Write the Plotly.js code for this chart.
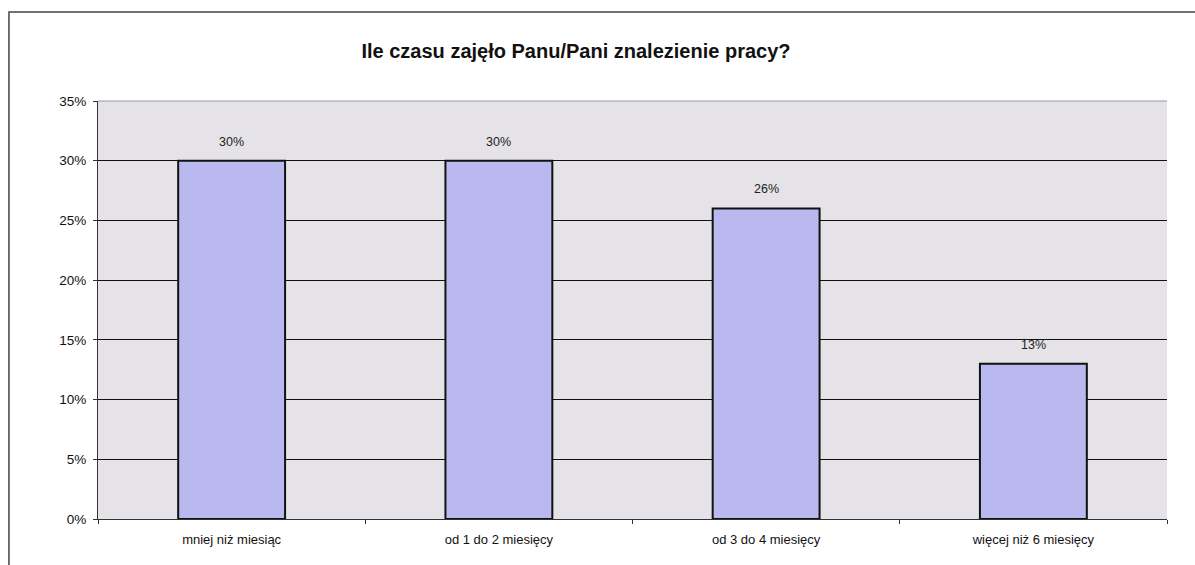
<!DOCTYPE html>
<html>
<head>
<meta charset="utf-8">
<script src="https://cdn.plot.ly/plotly-3.0.1.min.js"></script>
<style>html,body{margin:0;padding:0;background:#fff;}#chart{width:1195px;height:565px;}</style>
</head>
<body>
<div id="chart"></div>
<script>
const categories = ["mniej niż miesiąc", "od 1 do 2 miesięcy", "od 3 do 4 miesięcy", "więcej niż 6 miesięcy"];
const values = [0.30, 0.30, 0.26, 0.13];
const valueLabels = ["30%", "30%", "26%", "13%"];
const yTickVals = [0, 0.05, 0.10, 0.15, 0.20, 0.25, 0.30, 0.35];
const yTickText = ["0%", "5%", "10%", "15%", "20%", "25%", "30%", "35%"];
const chartTitle = "Ile czasu zajęło Panu/Pani znalezienie pracy?";

const FONT = "Liberation Sans, Arial, sans-serif";

const trace = {
  type: "bar",
  x: categories,
  y: values,
  width: 0.4,
  marker: {color: "#b9b9f0", line: {color: "#111", width: 2}},
  hoverinfo: "none"
};

const annotations = categories.map((c, i) => ({
  x: c, y: values[i], xref: "x", yref: "y",
  text: valueLabels[i], showarrow: false,
  yanchor: "bottom", yshift: 10,
  font: {family: FONT, size: 12.5, color: "#222"}
}));

const layout = {
  width: 1195, height: 565,
  margin: {l: 98, r: 28, t: 101, b: 46},
  paper_bgcolor: "#ffffff",
  plot_bgcolor: "#e5e3e7",
  showlegend: false,
  bargap: 0.6,
  title: {
    text: "<b>" + chartTitle + "</b>",
    font: {family: FONT, size: 20, color: "#111"},
    x: 0.482, xanchor: "center", y: 0.91, yanchor: "middle"
  },
  font: {family: FONT, color: "#111"},
  xaxis: {
    type: "category",
    showgrid: false,
    showline: true, linecolor: "#333", linewidth: 1,
    ticks: "outside", tickson: "boundaries", ticklen: 4, tickcolor: "#333",
    ticklabelstandoff: 8,
    tickfont: {size: 13, color: "#111"},
    zeroline: false
  },
  yaxis: {
    range: [0, 0.35],
    tickvals: yTickVals,
    ticktext: yTickText,
    showgrid: true, gridcolor: "#111", gridwidth: 1,
    showline: true, linecolor: "#333", linewidth: 1,
    ticks: "outside", ticklen: 4, tickcolor: "#333",
    ticklabelstandoff: 4,
    tickfont: {size: 13.5, color: "#111"},
    zeroline: false
  },
  annotations: annotations,
  shapes: [
    {type: "rect", xref: "paper", yref: "paper", x0: -0.0833, x1: 1.03, y0: -0.2, y1: 1.213,
     line: {color: "#444", width: 1.5}, fillcolor: "rgba(0,0,0,0)", layer: "below"},
    {type: "line", xref: "paper", yref: "paper", x0: 0, x1: 1, y0: 1, y1: 1,
     line: {color: "#999", width: 1}}
  ]
};

Plotly.newPlot("chart", [trace], layout, {displayModeBar: false, staticPlot: true});
</script>
</body>
</html>
